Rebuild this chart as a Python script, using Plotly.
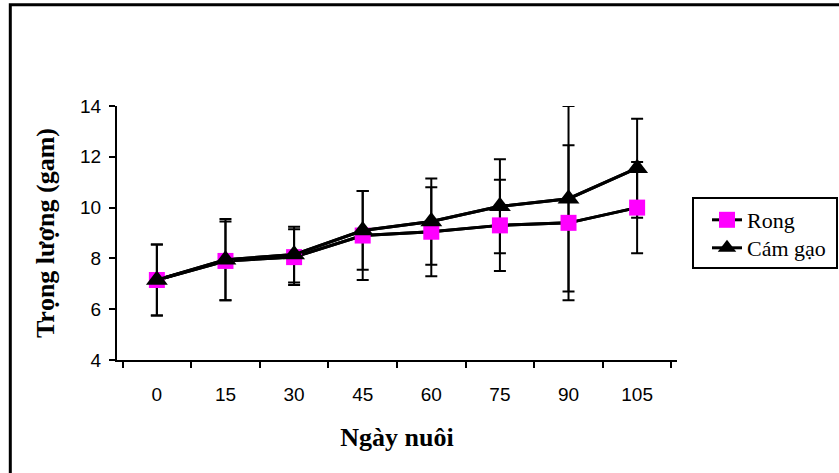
import plotly.graph_objects as go

# ---- data ----
days = ["0", "15", "30", "45", "60", "75", "90", "105"]
rong = [7.15, 7.9, 8.05, 8.9, 9.05, 9.3, 9.4, 10.0]
rong_err = [1.4, 1.55, 1.1, 1.75, 1.75, 1.8, 3.05, 1.8]
cam_gao = [7.15, 7.95, 8.15, 9.1, 9.45, 10.05, 10.35, 11.55]
cam_gao_err = [1.4, 1.6, 1.1, 1.55, 1.7, 1.85, 3.65, 1.95]
y_ticks = [4, 6, 8, 10, 12, 14]

W, H = 839, 473
PX0, PX1, PY0, PY1 = 117, 677, 106, 360   # plot area in page pixels
L, T, R, B = PX0, PY0, W - PX1, H - PY1


def px_x(x):
    return (x - PX0) / (PX1 - PX0)


def px_y(y):
    return (PY1 - y) / (PY1 - PY0)


err_style = dict(type="data", color="black", thickness=2, width=6, visible=True)
serif = "Liberation Serif, Times New Roman, serif"
sans = "Liberation Sans, Arial, sans-serif"
legend_style = dict(xanchor="left", yanchor="top", bgcolor="rgba(0,0,0,0)",
                    borderwidth=0, font=dict(family=serif, size=22, color="black"))

fig = go.Figure()
# lines + error bars (drawn first)
fig.add_trace(go.Scatter(x=days, y=rong, mode="lines", showlegend=False,
                         line=dict(color="black", width=3),
                         error_y=dict(array=rong_err, **err_style), hoverinfo="skip"))
fig.add_trace(go.Scatter(x=days, y=cam_gao, mode="lines", showlegend=False,
                         line=dict(color="black", width=3),
                         error_y=dict(array=cam_gao_err, **err_style), hoverinfo="skip"))
# markers on top
fig.add_trace(go.Scatter(x=days, y=rong, mode="lines+markers", name="Rong",
                         legend="legend",
                         line=dict(color="black", width=3),
                         marker=dict(symbol="square", size=16, color="#FF00FF",
                                     line=dict(width=0))))
fig.add_trace(go.Scatter(x=days, y=cam_gao, mode="lines+markers", name="Cám gạo",
                         legend="legend2",
                         line=dict(color="black", width=3),
                         marker=dict(symbol="triangle-up", size=19, color="black",
                                     line=dict(width=0))))

fig.update_layout(
    width=W, height=H,
    margin=dict(l=L, r=R, t=T, b=B, autoexpand=False),
    paper_bgcolor="white", plot_bgcolor="white",
    font=dict(family=sans, size=19, color="black"),
    showlegend=True,
    legend=dict(x=px_x(707), y=px_y(199), **legend_style),
    legend2=dict(x=px_x(707), y=px_y(227), **legend_style),
    xaxis=dict(type="category", showline=True, linecolor="black", linewidth=2,
               ticks="outside", tickson="boundaries", ticklen=6, tickwidth=2,
               tickcolor="black", showgrid=False, zeroline=False,
               ticklabelstandoff=16,
               tickfont=dict(family=sans, size=19),
               title=dict(text="Ngày nuôi", standoff=24,
                          font=dict(family=serif, size=26, color="black",
                                    weight="bold"))),
    yaxis=dict(range=[4, 14], tickvals=y_ticks, showline=True, linecolor="black",
               linewidth=2, ticks="outside", ticklen=6, tickwidth=2, tickcolor="black",
               showgrid=False, zeroline=False, ticklabelstandoff=4,
               tickfont=dict(family=sans, size=19),
               title=dict(text="Trọng lượng (gam)", standoff=18,
                          font=dict(family=serif, size=26, color="black",
                                    weight="bold"))),
    shapes=[
        # legend box
        dict(type="rect", xref="paper", yref="paper",
             x0=px_x(693), x1=px_x(837), y0=px_y(268), y1=px_y(198),
             line=dict(color="black", width=2), fillcolor="rgba(0,0,0,0)"),
        # outer chart border (cropped at right and bottom)
        dict(type="rect", xref="paper", yref="paper",
             x0=px_x(10.3), x1=px_x(900), y0=px_y(520), y1=px_y(4.7),
             line=dict(color="black", width=3), fillcolor="rgba(0,0,0,0)"),
    ],
)

fig.write_html("out.html",
               config={"displayModeBar": False},
               post_script="document.body.style.margin='0';document.body.style.overflow='hidden';")
